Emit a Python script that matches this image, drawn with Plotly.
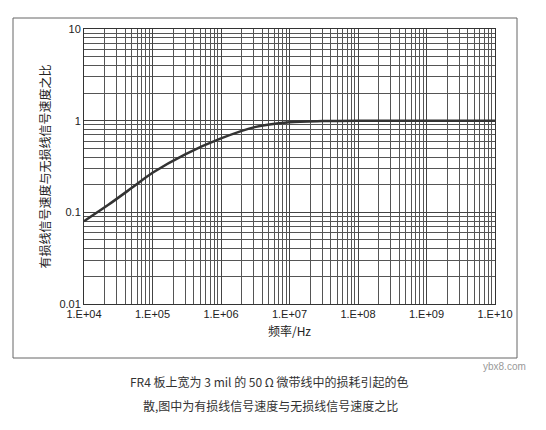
import plotly.graph_objects as go

freq = [1e4, 2.24e4, 5e4, 1e5, 3e5, 1e6, 3.1e6, 1e7, 3e7, 1e8, 1e9, 1e10]
ratio = [0.08, 0.12, 0.185, 0.27, 0.43, 0.64, 0.85, 0.96, 0.99, 1.0, 1.0, 1.0]
xticks = [1e4, 1e5, 1e6, 1e7, 1e8, 1e9, 1e10]
xlabels = ["1.E+04", "1.E+05", "1.E+06", "1.E+07", "1.E+08", "1.E+09", "1.E+10"]
yticks = [0.01, 0.1, 1, 10]
ylabels = ["0.01", "0.1", "1", "10"]

fig = go.Figure(go.Scatter(x=freq, y=ratio, mode="lines",
                           line=dict(color="#333", width=2.5, shape="spline", smoothing=0.8)))
W, H = 546, 430
L, R, T, B = 76, 59, 21, 134
ax = dict(type="log", showline=True, linecolor="#333", mirror=True,
          gridcolor="#444", gridwidth=1, ticks="", zeroline=False,
          tickfont=dict(family="Liberation Sans", size=11, color="#222"))
fig.update_xaxes(**ax, range=[4, 10], tickvals=xticks, ticktext=xlabels,
                 minor=dict(showgrid=True, gridcolor="#555", gridwidth=0.6,
                            dtick="D1"),
                 title=dict(text="频率/Hz", font=dict(family="Noto Sans CJK SC", size=12, color="#222"),
                            standoff=8))
fig.update_yaxes(**ax, range=[-2, 1], tickvals=yticks, ticktext=ylabels,
                 minor=dict(showgrid=True, gridcolor="#555", gridwidth=0.6,
                            dtick="D1"),
                 title=dict(text="有损线信号速度与无损线信号速度之比",
                            font=dict(family="Noto Sans CJK SC", size=12, color="#222"),
                            standoff=6))
pw, ph = W - L - R, H - T - B
def px(x): return (x - L) / pw
def py(y): return 1 - (y - T) / ph
fig.update_layout(
    width=W, height=H, margin=dict(l=L, r=R, t=T, b=B),
    paper_bgcolor="white", plot_bgcolor="white", showlegend=False,
    shapes=[dict(type="rect", xref="paper", yref="paper",
                 x0=px(5), x1=px(509), y0=py(350), y1=py(10),
                 line=dict(color="#666", width=1))],
    annotations=[
        dict(text="FR4 板上宽为 3 mil 的 50 Ω 微带线中的损耗引起的色",
             xref="paper", yref="paper", x=px(120), y=py(384), xanchor="left", showarrow=False,
             font=dict(family="Noto Sans CJK SC", size=12, color="#333")),
        dict(text="散,图中为有损线信号速度与无损线信号速度之比",
             xref="paper", yref="paper", x=px(133), y=py(408), xanchor="left", showarrow=False,
             font=dict(family="Noto Sans CJK SC", size=12, color="#333")),
        dict(text="ybx8.com", xref="paper", yref="paper", x=px(520), y=py(366),
             showarrow=False, font=dict(family="Liberation Sans", size=10, color="#999")),
    ],
)
fig.write_html("out.html")
